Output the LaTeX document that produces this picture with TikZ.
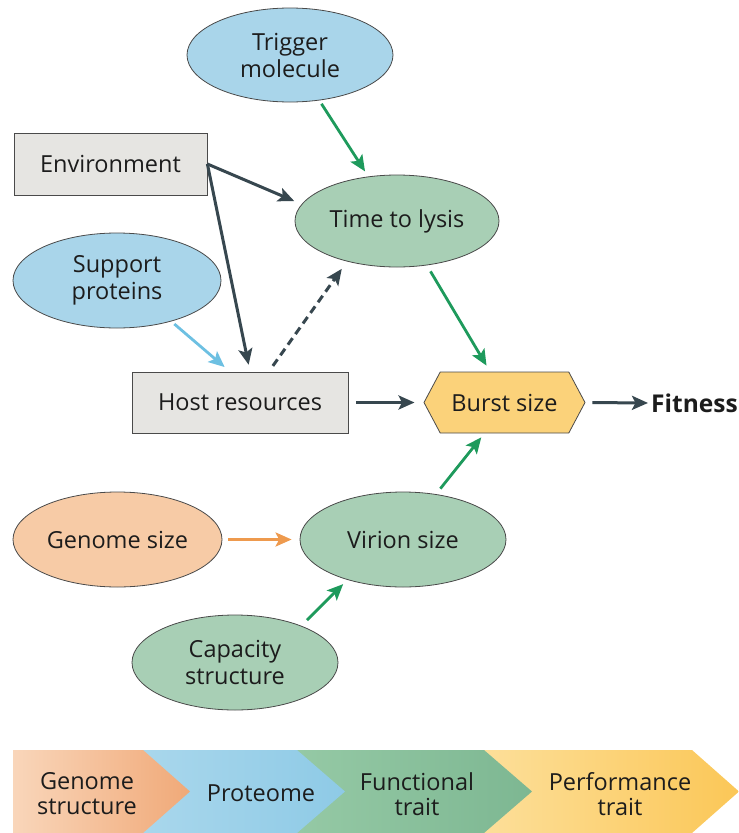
\documentclass[tikz,border=0pt]{standalone}
\usepackage{fontspec}
\setmainfont{Open Sans}
\usetikzlibrary{shapes.geometric,shapes.symbols,arrows.meta}
\definecolor{ink}{HTML}{1C1C1C}
\definecolor{edgegrey}{HTML}{4A4A4A}
\definecolor{darkarrow}{HTML}{37474F}
\definecolor{greenarrow}{HTML}{1E9A5C}
\definecolor{bluearrow}{HTML}{6DC0E2}
\definecolor{orangearrow}{HTML}{EE9A4E}
\definecolor{fillblue}{HTML}{A9D5EA}
\definecolor{fillgreen}{HTML}{A8CFB5}
\definecolor{fillorange}{HTML}{F7CBA6}
\definecolor{fillgrey}{HTML}{E6E5E2}
\definecolor{fillyellow}{HTML}{FBD27A}
\definecolor{yelL}{HTML}{FDE3A5}
\definecolor{yelR}{HTML}{FBC757}
\definecolor{grnL}{HTML}{95C9A5}
\definecolor{grnR}{HTML}{7DB792}
\definecolor{bluL}{HTML}{A9D7EC}
\definecolor{bluR}{HTML}{8ECAE6}
\definecolor{orgL}{HTML}{F9D6BA}
\definecolor{orgR}{HTML}{F0A978}
\begin{document}
\begin{tikzpicture}[x=1pt,y=-1pt,
  every node/.style={font=\fontsize{23.5}{27}\selectfont, text=ink, align=center, inner sep=0pt},
  oval/.style={ellipse, draw=edgegrey, line width=0.8pt, minimum width=206pt, minimum height=94pt},
  boxnode/.style={rectangle, draw=edgegrey, line width=0.8pt, fill=fillgrey},
  arr/.style={line width=3pt, -{Stealth[length=16pt,width=14pt,inset=3.5pt]}},
  darr/.style={arr, draw=darkarrow},
  garr/.style={arr, draw=greenarrow, line width=2.8pt},
  barlabel/.style={font=\fontsize{23.5}{25}\selectfont}
]
\useasboundingbox (0,0) rectangle (739,833);

% nodes
\node[oval, fill=fillblue] (trig) at (290,55) {Trigger\\molecule};
\node[boxnode, minimum width=193pt, minimum height=62pt] (env) at (110.5,164) {Environment};
\node[oval, fill=fillgreen, minimum width=204pt, minimum height=92pt] (lysis) at (397,221) {Time to lysis};
\node[oval, fill=fillblue, minimum width=208pt, minimum height=95pt] (sup) at (117,280.5) {Support\\proteins};
\node[boxnode, minimum width=216pt, minimum height=61pt] (host) at (240,402.5) {Host resources};
\node[signal, signal to=west and east, signal pointer angle=124, draw=edgegrey, line width=0.8pt, fill=fillyellow, minimum width=161pt, minimum height=61pt] (burst) at (504.5,402.5) {Burst size};
\node[anchor=west, font=\fontsize{24.5}{28}\selectfont\bfseries] (fit) at (651,403) {Fitness};
\node[oval, fill=fillorange, minimum width=209pt, minimum height=95pt] (gen) at (117.5,539.5) {Genome size};
\node[oval, fill=fillgreen, minimum height=95pt] (vir) at (403,539.5) {Virion size};
\node[oval, fill=fillgreen, minimum height=95pt] (cap) at (235,662.5) {Capacity\\structure};

% connectors
\draw[garr, shorten <=4pt, shorten >=6pt] (trig) -- (lysis);
\draw[darr, shorten >=8pt] (env.east) -- (lysis.170);
\draw[darr, shorten >=7pt] (env.east) -- (host.72);
\draw[arr, draw=bluearrow, line width=2.8pt, shorten <=4pt, shorten >=7pt] (sup.-37) -- (host.108);
\draw[darr, dashed, dash pattern=on 8pt off 5pt, shorten <=7pt, shorten >=9pt] (host.47) -- (lysis.219);
\draw[garr, shorten <=7pt, shorten >=7pt] (lysis.-56) -- (burst.115);
\draw[darr, shorten <=8pt, shorten >=9pt] (host.east) -- (burst.west);
\draw[darr, shorten <=7pt, shorten >=3pt] (burst.east) -- (fit.west);
\draw[arr, draw=orangearrow, line width=2.8pt, shorten <=6pt, shorten >=8pt] (gen.east) -- (vir.west);
\draw[garr, shorten <=8pt, shorten >=6pt] (cap.29) -- (vir.216);
\draw[garr, shorten <=7pt, shorten >=5pt] (vir.54) -- (burst.237);

% bottom bar
\shade[left color=yelL, right color=yelR] (440,750) -- (692,750) -- (739,791.5) -- (692,833) -- (440,833) -- cycle;
\shade[left color=grnL, right color=grnR] (297,750) -- (484,750) -- (532,791.5) -- (484,833) -- (297,833) -- cycle;
\shade[left color=bluL, right color=bluR] (143,750) -- (297,750) -- (345,791.5) -- (297,833) -- (143,833) -- cycle;
\shade[left color=orgL, right color=orgR] (13,750) -- (143,750) -- (190,791.5) -- (143,833) -- (13,833) -- cycle;
\node[barlabel] (b1) at (87,794) {Genome\\structure};
\node[barlabel] (b2) at (261,793) {Proteome};
\node[barlabel] (b3) at (417,794) {Functional\\trait};
\node[barlabel] (b4) at (620,794) {Performance\\trait};
\end{tikzpicture}
\end{document}
